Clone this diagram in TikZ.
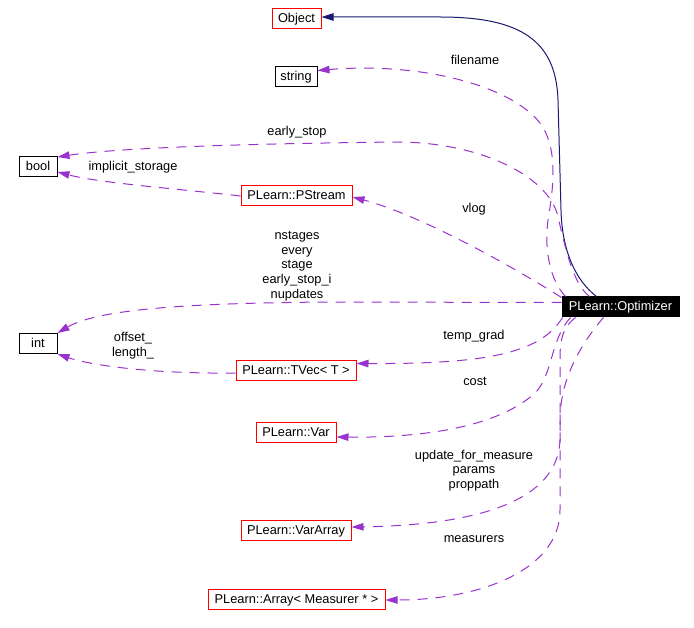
\documentclass[tikz,border=0pt]{standalone}
\usepackage{fontspec}
\setmainfont{Liberation Sans}
\usetikzlibrary{arrows.meta,calc}
\definecolor{edgepurple}{HTML}{9A32CD}
\definecolor{edgenavy}{HTML}{191970}
\begin{document}
\begin{tikzpicture}[x=1pt,y=-1pt,
  font=\fontsize{12.8}{14.7}\selectfont,
  cls/.style={draw=black, line width=1pt, inner sep=0pt, minimum height=20pt, text height=9.5pt, text depth=1.5pt},
  redbox/.style={cls, draw=red},
  mainbox/.style={cls, fill=black, text=white},
  lbl/.style={inner sep=0pt, align=center},
  inh/.style={draw=edgenavy, line width=1pt, -{Triangle[length=12pt,width=7.5pt]}, fill=none},
  mem/.style={draw=edgepurple, line width=1pt, dash pattern=on 10pt off 8pt, -{Triangle[length=12pt,width=7.5pt,fill=edgepurple]}}
]
\useasboundingbox (0,0) rectangle (694,628);
% nodes
\node[redbox, minimum width=49pt] (obj) at (296.5,19) {Object};
\node[cls, minimum width=42pt] (str) at (296,77) {string};
\node[cls, minimum width=38pt] (bool) at (38,166.5) {bool};
\node[redbox, minimum width=111pt] (pstream) at (296.5,196) {PLearn::PStream};
\node[cls, minimum width=38pt] (int) at (38,343.5) {int};
\node[redbox, minimum width=120pt] (tvec) at (296,371) {PLearn::TVec< T >};
\node[redbox, minimum width=80pt] (var) at (296,433) {PLearn::Var};
\node[redbox, minimum width=110pt] (vararr) at (296,530) {PLearn::VarArray};
\node[redbox, minimum width=177pt] (arr) at (296.5,599) {PLearn::Array< Measurer * >};
\node[mainbox, minimum width=117pt] (opt) at (620.5,307) {PLearn::Optimizer};
% labels
\node[lbl] (lfilename) at (475,60) {filename};
\node[lbl] (learly) at (297,132) {early\_stop};
\node[lbl] (limpl) at (133,167) {implicit\_storage};
\node[lbl] (lvlog) at (474,209) {vlog};
\node[lbl] (lint) at (297,266) {nstages\\every\\stage\\early\_stop\_i\\nupdates};
\node[lbl] (loff) at (133,345.5) {offset\_\\length\_};
\node[lbl] (ltemp) at (474,336) {temp\_grad};
\node[lbl] (lcost) at (475,381) {cost};
\node[lbl] (lupd) at (474,470.5) {update\_for\_measure\\params\\proppath};
\node[lbl] (lmeas) at (474,539) {measurers};
% edges
\draw[inh] ([xshift=35pt]opt.north west) .. controls (575,280) and (562,250) .. (561,210) -- (558,100) .. controls (556,40) and (520,17) .. (440,17) -- ([yshift=2pt]obj.east);
\draw[mem] ([xshift=4pt]opt.north west) .. controls (550,280) and (544,250) .. (548,220) .. controls (552,195) and (560,150) .. (540,123) .. controls (510,85) and (420,62) .. ([yshift=-4pt]str.north east);
\draw[mem] ([xshift=28pt]opt.north west) .. controls (572,283) and (565,245) .. (557,213) .. controls (545,175) and (480,143) .. (400,142) .. controls (300,143) and (130,146) .. ([yshift=-1pt]bool.north east);
\draw[mem] (pstream.west) .. controls (170,188) and (100,183) .. ([yshift=-5.5pt]bool.east);
\draw[mem] ([yshift=-1pt]opt.north west) .. controls (510,265) and (420,215) .. ([yshift=-1pt]pstream.east);
\draw[mem] ([yshift=-6pt]opt.north west) -- (330,302) .. controls (200,303) and (100,308) .. (int.north east);
\draw[mem] ([yshift=-2pt]tvec.west) .. controls (150,374) and (90,365) .. ([yshift=0pt]int.south east);
\draw[mem] ([xshift=1pt]opt.south west) .. controls (540,355) and (480,364) .. ([yshift=-3pt]tvec.north east);
\draw[mem] ([xshift=9pt]opt.south west) .. controls (550,340) and (553,375) .. (535,393) .. controls (500,425) and (430,438) .. ([yshift=-4pt]var.east);
\draw[mem] ([xshift=14pt]opt.south west) .. controls (562,328) and (560,340) .. (560,360) -- (560,440) .. controls (558,500) and (480,525) .. ([yshift=3pt]vararr.east);
\draw[mem] ([xshift=42pt]opt.south west) .. controls (580,345) and (560,380) .. (560,420) -- (560,510) .. controls (560,570) and (480,600) .. ([yshift=-1pt]arr.east);
\end{tikzpicture}
\end{document}
